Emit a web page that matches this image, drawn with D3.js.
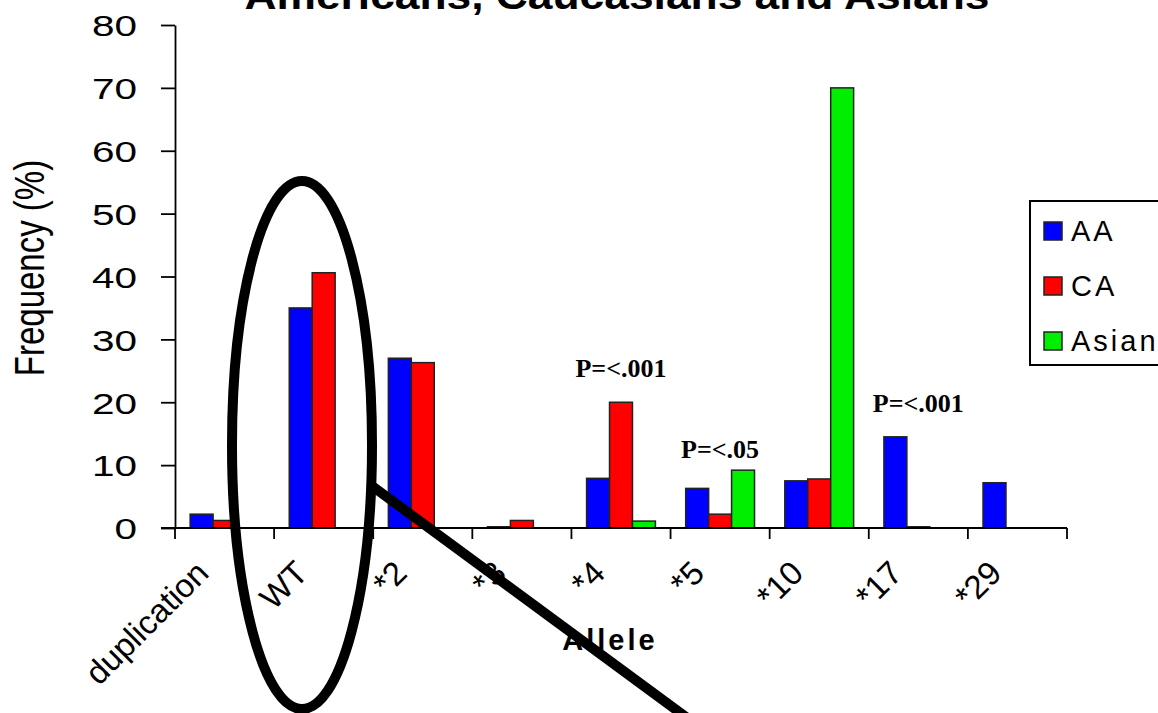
<!DOCTYPE html>
<html>
<head>
<meta charset="utf-8">
<script src="https://cdn.jsdelivr.net/npm/d3@7"></script>
<style>
  body { margin: 0; background: #fff; }
  svg { display: block; }
</style>
</head>
<body>
<svg id="chart"></svg>
<script>
// alleles and frequencies (%) per population
var alleles = ["duplication", "WT", "*2", "*3", "*4", "*5", "*10", "*17", "*29"];
var series = ["AA", "CA", "Asian"];
var AA    = [2.2, 35, 27, 0.2, 7.9, 6.3, 7.5, 14.5, 7.2];
var CA    = [1.2, 40.6, 26.3, 1.2, 20, 2.2, 7.8, 0.2, 0];
var Asian = [0, 0, 0, 0, 1.1, 9.2, 70, 0, 0];
var yTicks = [0, 10, 20, 30, 40, 50, 60, 70, 80];
var pLabels = [
  {allele: "*4", text: "P=<.001", value: 24},
  {allele: "*5", text: "P=<.05", value: 11.1},
  {allele: "*17", text: "P=<.001", value: 18.4}
];

var width = 1158, height = 713;
var colors = {AA: "#0000ff", CA: "#ff0000", Asian: "#00ee00"};
var values = {AA: AA, CA: CA, Asian: Asian};

var data = alleles.map((a, i) => ({allele: a, vals: series.map(s => ({key: s, value: values[s][i]}))}));

var x = d3.scaleBand().domain(alleles).range([175, 1067]);
var xs = d3.scaleBand().domain(series).range([0, x.bandwidth()]).paddingOuter(0.66);
var y = d3.scaleLinear().domain([0, 80]).range([528, 25]);

const svg = d3.select("#chart")
  .attr("width", width)
  .attr("height", height)
  .attr("viewBox", [0, 0, width, height])
  .attr("font-family", "Arial, 'Liberation Sans', sans-serif");

svg.append("rect").attr("width", width).attr("height", height).attr("fill", "white");

// title (cut off at the top in the original)
svg.append("text")
  .attr("x", 617).attr("y", 9)
  .attr("text-anchor", "middle")
  .attr("font-size", 38).attr("font-weight", "bold")
  .attr("textLength", 745).attr("lengthAdjust", "spacingAndGlyphs")
  .text("Americans, Caucasians and Asians");

// bars
svg.append("g")
  .selectAll("g")
  .data(data)
  .join("g")
  .attr("transform", d => `translate(${x(d.allele)},0)`)
  .selectAll("rect")
  .data(d => d.vals.filter(v => v.value > 0))
  .join("rect")
  .attr("x", d => xs(d.key))
  .attr("width", xs.bandwidth())
  .attr("y", d => y(d.value))
  .attr("height", d => y(0) - y(d.value))
  .attr("fill", d => colors[d.key])
  .attr("stroke", "#222")
  .attr("stroke-width", 1.5);

// y axis (labels are stretched sideways like in the source image)
var yAxis = svg.append("g")
  .attr("transform", `translate(175,0)`)
  .call(d3.axisLeft(y).tickValues(yTicks).tickSize(14).tickSizeOuter(0));
yAxis.select(".domain").attr("stroke", "#000").attr("stroke-width", 1.8);
yAxis.selectAll(".tick line").attr("stroke-width", 1.8);
yAxis.selectAll(".tick text")
  .attr("x", 0).attr("dy", "0.36em")
  .attr("transform", "translate(-38,0) scale(1.35,1)")
  .attr("font-size", 30)
  .attr("font-family", "Arial, 'Liberation Sans', sans-serif");

// x axis: ticks at category boundaries
var xAxis = svg.append("g").attr("transform", `translate(0,${y(0)})`);
xAxis.append("line")
  .attr("x1", 161).attr("x2", 1067)
  .attr("stroke", "#000").attr("stroke-width", 1.8);
xAxis.selectAll(".bt")
  .data(alleles.concat(["end"]))
  .join("line")
  .attr("class", "bt")
  .attr("x1", (d, i) => i < alleles.length ? x(d) : x.range()[1])
  .attr("x2", (d, i) => i < alleles.length ? x(d) : x.range()[1])
  .attr("y1", 0).attr("y2", 11)
  .attr("stroke", "#000").attr("stroke-width", 1.8);
xAxis.selectAll(".lbl")
  .data(alleles)
  .join("text")
  .attr("class", "lbl")
  .attr("text-anchor", "end")
  .attr("font-size", 33)
  .attr("transform", d => `translate(${x(d) + x.bandwidth() / 2 - 14},47) rotate(-45)`)
  .text(d => d);

// axis titles
svg.append("text")
  .attr("transform", "translate(44,268) scale(1.3,1) rotate(-90)")
  .attr("text-anchor", "middle")
  .attr("font-size", 33)
  .text("Frequency (%)");
svg.append("text")
  .attr("x", 610).attr("y", 650)
  .attr("text-anchor", "middle")
  .attr("font-size", 29).attr("font-weight", "bold")
  .attr("letter-spacing", 3)
  .text("Allele");

// p-value annotations
svg.selectAll(".pv")
  .data(pLabels)
  .join("text")
  .attr("class", "pv")
  .attr("x", d => x(d.allele) + x.bandwidth() / 2)
  .attr("y", d => y(d.value))
  .attr("text-anchor", "middle")
  .attr("font-family", "'Liberation Serif', 'Times New Roman', serif")
  .attr("font-weight", "bold")
  .attr("font-size", 26)
  .text(d => d.text);

// legend
var legend = svg.append("g").attr("transform", "translate(1030,201)");
legend.append("rect")
  .attr("width", 150).attr("height", 164)
  .attr("fill", "white").attr("stroke", "#000").attr("stroke-width", 2);
legend.selectAll("g")
  .data(series)
  .join("g")
  .attr("transform", (d, i) => `translate(14,${21 + i * 55})`)
  .call(g => g.append("rect")
    .attr("width", 18).attr("height", 18)
    .attr("fill", d => colors[d]).attr("stroke", "#222").attr("stroke-width", 1.5))
  .call(g => g.append("text")
    .attr("x", 27).attr("y", 19)
    .attr("font-size", 29).attr("letter-spacing", 3)
    .text(d => d));

// hand-drawn highlight around WT
svg.append("ellipse")
  .attr("cx", 302).attr("cy", 445).attr("rx", 70).attr("ry", 264)
  .attr("fill", "none").attr("stroke", "#000").attr("stroke-width", 10);
svg.append("line")
  .attr("x1", 372).attr("y1", 486).attr("x2", 690).attr("y2", 720)
  .attr("stroke", "#000").attr("stroke-width", 10);
</script>
</body>
</html>
